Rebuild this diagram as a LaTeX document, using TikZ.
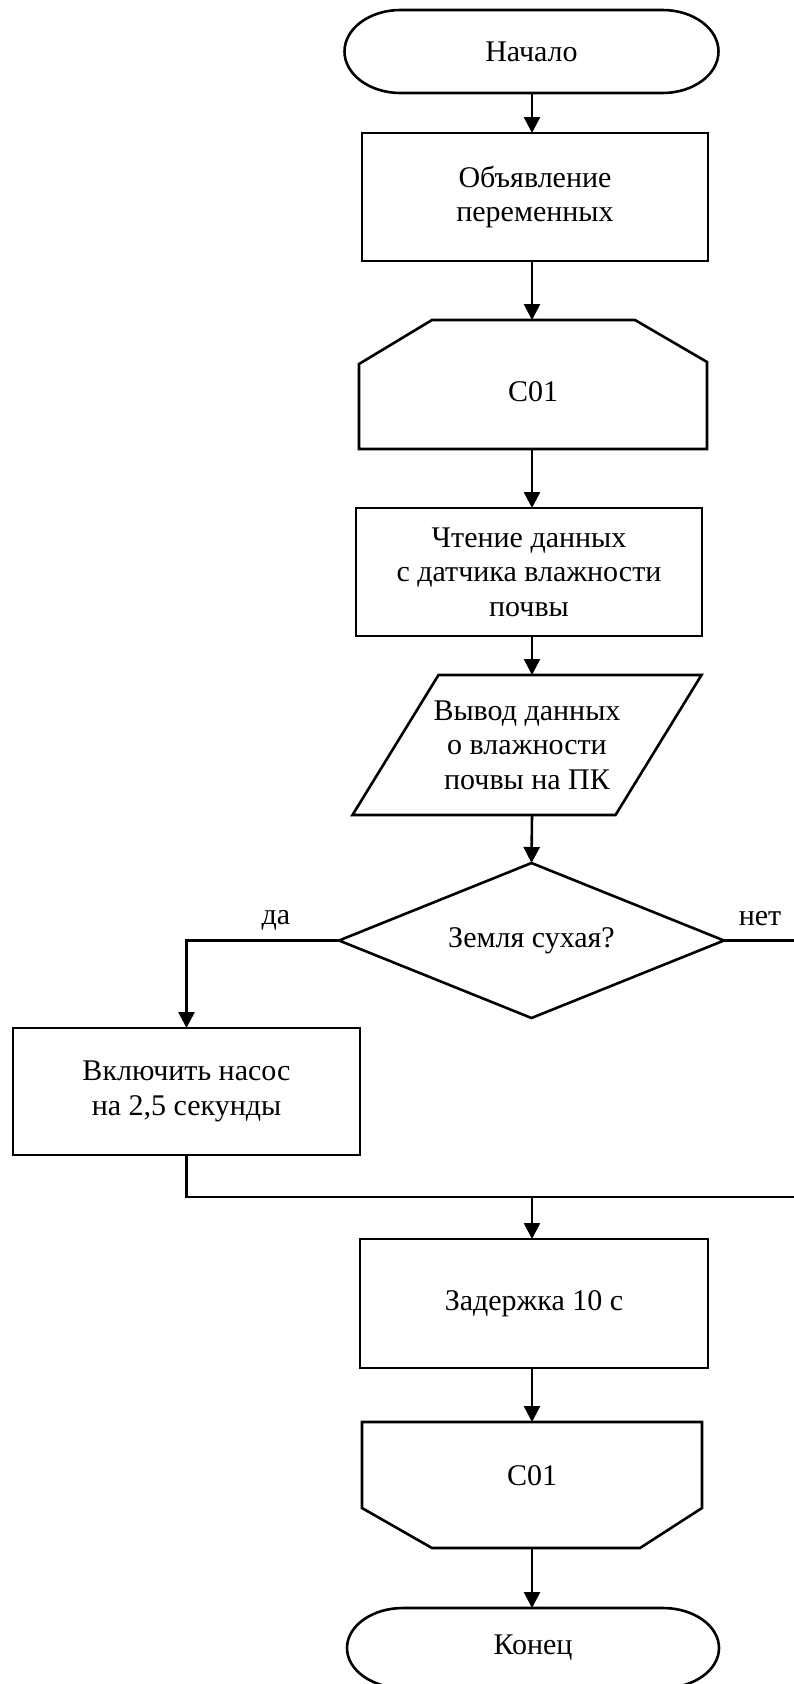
\documentclass[tikz,border=0pt]{standalone}
\usepackage{fontspec}
\setmainfont{Liberation Serif}
\usetikzlibrary{arrows.meta,calc}
\begin{document}
\begin{tikzpicture}[x=1pt,y=-1pt,
  every node/.style={font=\fontsize{30}{34.5}\selectfont, align=center, inner sep=0pt, outer sep=0pt},
  ln/.style={line width=2.6pt},
  arr/.style={ln,-{Triangle[length=16pt,width=16pt]}},
  proc/.style={draw, ln},
  frame/.style={draw=none}]
\useasboundingbox (0,0) rectangle (794,1684);
\coordinate (col) at (532,0);

\node[frame, minimum width=374pt, minimum height=83pt] (start) at (531.5,51.5) {Начало};
\draw[ln] ($(start.north west)+(56,0)$) -- ($(start.north east)+(-56,0)$)
  arc[start angle=-90, end angle=90, x radius=56, y radius=41.5]
  -- ($(start.south west)+(56,0)$)
  arc[start angle=90, end angle=270, x radius=56, y radius=41.5] -- cycle;
\node[proc, minimum width=346pt, minimum height=128pt] (decl) at (535,197) {Объявление\\переменных};
\node[frame, minimum width=348pt, minimum height=129pt, text height=33pt, text depth=0pt] (loopA) at (533,384.5) {C01};
\draw[ln] ($(loopA.north west)+(73,0)$) -- ($(loopA.north east)+(-72,0)$) -- ($(loopA.north east)+(0,42)$)
  -- (loopA.south east) -- (loopA.south west) -- ($(loopA.north west)+(0,44)$) -- cycle;
\node[proc, minimum width=346pt, minimum height=128pt] (read) at (529,572) {Чтение данных\\с датчика влажности\\почвы};
\node[frame, minimum width=263pt, minimum height=140pt] (out) at (527,745) {Вывод данных\\о влажности\\почвы на ПК};
\draw[ln] ($(out.north west)+(43,0)$) -- ($(out.north east)+(43,0)$) -- ($(out.south east)+(-43,0)$)
  -- ($(out.south west)+(-43,0)$) -- cycle;
\node[frame, minimum width=385pt, minimum height=155pt] (dec) at (531.5,940.5) {Земля сухая?};
\draw[ln] (dec.north) -- (dec.east) -- (dec.south) -- (dec.west) -- cycle;
\node (yes) at (276,920) {да};
\node (no) at (760,918.5) {нет};
\node[proc, minimum width=347pt, minimum height=127pt] (pump) at (186.5,1091.5) {Включить насос\\на 2,5 секунды};
\node[proc, minimum width=348pt, minimum height=129pt] (delay) at (534,1303.5) {Задержка 10 с};
\node[frame, minimum width=340pt, minimum height=126pt, text height=10pt, text depth=10pt] (loopB) at (532,1485) {C01};
\draw[ln] (loopB.north west) -- (loopB.north east) -- ($(loopB.south east)+(0,-40)$) -- ($(loopB.south east)+(-62,0)$)
  -- ($(loopB.south west)+(70,0)$) -- ($(loopB.south west)+(0,-40)$) -- cycle;
\node[frame, minimum width=372pt, minimum height=80pt] (stop) at (533,1648) {Конец};
\draw[ln] ($(stop.north west)+(56,0)$) -- ($(stop.north east)+(-56,0)$)
  arc[start angle=-90, end angle=90, x radius=56, y radius=40]
  -- ($(stop.south west)+(56,0)$)
  arc[start angle=90, end angle=270, x radius=56, y radius=40] -- cycle;

\coordinate (rc) at (797,1197);
\coordinate (m) at (532,1197);
\draw[arr] (col |- start.south) -- (col |- decl.north);
\draw[arr] (col |- decl.south) -- (col |- loopA.north);
\draw[arr] (col |- loopA.south) -- (col |- read.north);
\draw[arr] (col |- read.south) -- (col |- out.north);
\draw[arr] (col |- out.south) -- (dec.north);
\draw[arr] (dec.west) -| (pump.north);
\draw[ln] (dec.east) -| (rc);
\draw[ln] (pump.south) |- (rc);
\draw[arr] (m) -- (col |- delay.north);
\draw[arr] (col |- delay.south) -- (col |- loopB.north);
\draw[arr] (col |- loopB.south) -- (col |- stop.north);
\end{tikzpicture}
\end{document}
